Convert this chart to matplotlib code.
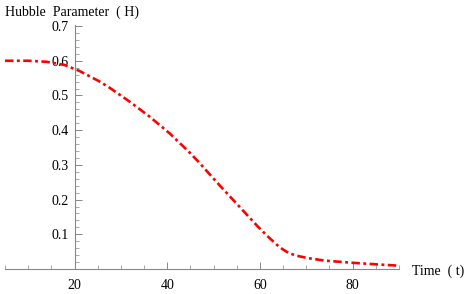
import matplotlib
matplotlib.use("Agg")
import matplotlib.pyplot as plt
from matplotlib.ticker import MultipleLocator

time_t = [5, 10, 14, 17.8, 21, 25.3, 27.6, 31.9, 36.2, 40.5, 44.8, 46.8, 51.1,
          55.4, 59.7, 62, 64.3, 66.2, 68, 70.5, 74.1, 79.9, 85, 90]
hubble_H = [0.600, 0.600, 0.597, 0.588, 0.571, 0.541, 0.522, 0.482, 0.439, 0.391,
            0.336, 0.308, 0.244, 0.182, 0.120, 0.090, 0.062, 0.046, 0.038, 0.031,
            0.024, 0.018, 0.0135, 0.0095]
x_ticks = [20, 40, 60, 80]
y_ticks = [0.1, 0.2, 0.3, 0.4, 0.5, 0.6, 0.7]

plt.rcParams['font.family'] = ['Liberation Serif', 'DejaVu Serif']

fig = plt.figure(figsize=(4.75, 2.94), dpi=100)
ax = fig.add_axes([5/475, 1-269/294, (399-5)/475, (269-25)/294])
ax.set_xlim(5, 90)
ax.set_ylim(0, 0.703)

ax.plot(time_t, hubble_H, color='#ff0000', lw=1.9,
        linestyle=(0, (3.2, 1.3, 1.1, 1.3)), dash_capstyle='butt')

for s in ['top', 'right']:
    ax.spines[s].set_visible(False)
ax.spines['left'].set_position(('data', 20))
ax.spines['bottom'].set_position(('data', 0))
for s in ['left', 'bottom']:
    ax.spines[s].set_color('#888888')
    ax.spines[s].set_linewidth(0.8)

ax.set_xticks(x_ticks)
ax.set_yticks(y_ticks)
ax.set_yticklabels([f"{v:.1f}" for v in y_ticks])
ax.xaxis.set_minor_locator(MultipleLocator(5))
ax.yaxis.set_minor_locator(MultipleLocator(0.02))
ax.tick_params(which='major', direction='in', length=5, width=0.7, color='#888888',
               labelsize=10, pad=4)
ax.tick_params(which='minor', direction='in', length=3, width=0.6, color='#999999')
ax.tick_params(axis='x', pad=7)

fig.text(5/475, 1-12/294, "Hubble  Parameter  ( H)", fontsize=10, va='center', ha='left')
fig.text(412/475, 1-271/294, "Time  ( t)", fontsize=10, va='center', ha='left')

fig.savefig("out.png", dpi=100)
